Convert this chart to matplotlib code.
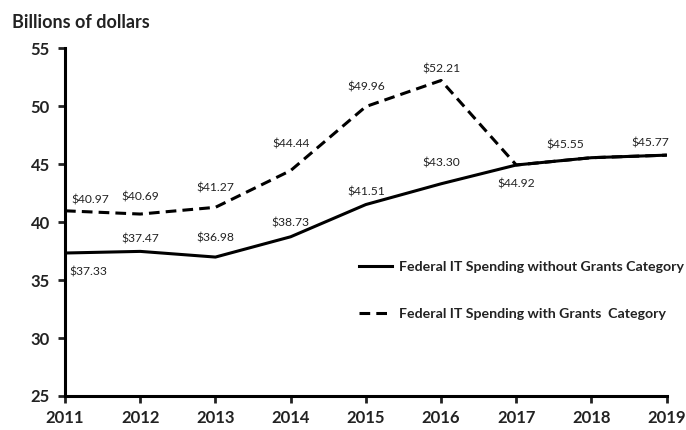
import matplotlib
matplotlib.use("Agg")
import matplotlib.pyplot as plt

years = [2011, 2012, 2013, 2014, 2015, 2016, 2017, 2018, 2019]
without_grants = [37.33, 37.47, 36.98, 38.73, 41.51, 43.30, 44.92, 45.55, 45.77]
with_grants = [40.97, 40.69, 41.27, 44.44, 49.96, 52.21, 44.92, 45.55, 45.77]
yticks = [25, 30, 35, 40, 45, 50, 55]

plt.rcParams['font.family'] = ['Lato', 'DejaVu Sans']

fig = plt.figure(figsize=(6.86, 4.30), dpi=100)
ax = fig.add_axes([0.0948, 0.0791, 0.877, 0.809])

ax.plot(years, without_grants, color='black', lw=2.2, label='Federal IT Spending without Grants Category')
ax.plot(years, with_grants, color='black', lw=2.2, ls=(0, (3.5, 2)), label='Federal IT Spending with Grants  Category')

ax.set_xlim(2011, 2019)
ax.set_ylim(25, 55)
ax.set_yticks(yticks)
ax.set_xticks(years)
for s in ['top', 'right']:
    ax.spines[s].set_visible(False)
for s in ['left', 'bottom']:
    ax.spines[s].set_linewidth(2.2)
ax.tick_params(width=2, length=5, labelsize=12, colors='#222222')
for lbl in ax.get_xticklabels() + ax.get_yticklabels():
    lbl.set_fontweight('bold')
ax.tick_params(axis='x', pad=5)
ax.tick_params(axis='y', pad=6)

fs = 8.7
# dashed series labels (offsets in points)
dash_off = [(18, 8), (0, 12), (0, 14), (0, 19), (0, 14), (0, 8), (0, -14), (-19, 9), (-12, 9)]
for x, y, off in zip(years, with_grants, dash_off):
    ax.annotate(f"${y:.2f}", (x, y), xytext=off, textcoords='offset points',
                ha='center', va='center', fontsize=fs, color='#222222')
solid_off = [(17, -14), (0, 9), (0, 14), (0, 10), (0, 9), (0, 15), None, None, None]
for x, y, off in zip(years, without_grants, solid_off):
    if off is None:
        continue
    ax.annotate(f"${y:.2f}", (x, y), xytext=off, textcoords='offset points',
                ha='center', va='center', fontsize=fs, color='#222222')

fig.text(0.017, 0.948, 'Billions of dollars', fontsize=13, fontweight='bold', color='#222222', va='center')

leg = ax.legend(loc='upper left', bbox_to_anchor=(0.468, 0.425), frameon=False,
                handlelength=2.3, handletextpad=0.5, labelspacing=2.45,
                prop={'weight': 'bold', 'size': 10.2})
for t in leg.get_texts():
    t.set_color('#222222')

fig.savefig('out.png', dpi=100)
